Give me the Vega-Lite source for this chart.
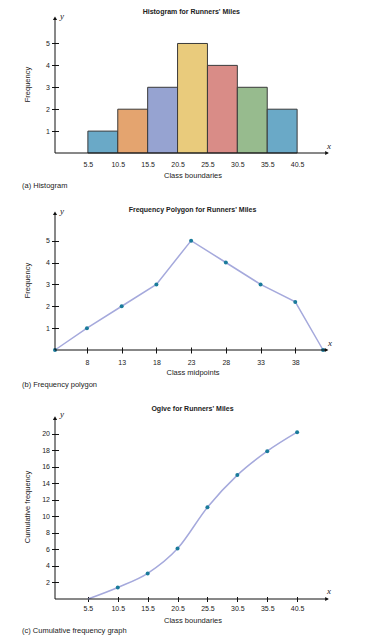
{
  "$schema": "https://vega.github.io/schema/vega-lite/v6.json",
  "background": "white",
  "padding": {"left": 22, "top": 8, "right": 5, "bottom": 5},
  "spacing": 16,
  "config": {
    "view": {"stroke": null},
    "axis": {
      "labelFont": "Liberation Sans",
      "titleFont": "Liberation Sans",
      "labelFontSize": 7,
      "titleFontSize": 7.5,
      "titleFontWeight": "normal",
      "labelColor": "#222222",
      "titleColor": "#222222",
      "tickColor": "#111111",
      "grid": false,
      "domain": false,
      "labelFlush": false,
      "labelOverlap": false
    },
    "text": {"font": "Liberation Sans", "fontSize": 7.5, "color": "#222222"}
  },
  "datasets": {
    "one": [{"k": 1}],
    "hist": [
      {"cls": "6-10", "lower": 5.5, "upper": 10.5, "freq": 1},
      {"cls": "11-15", "lower": 10.5, "upper": 15.5, "freq": 2},
      {"cls": "16-20", "lower": 15.5, "upper": 20.5, "freq": 3},
      {"cls": "21-25", "lower": 20.5, "upper": 25.5, "freq": 5},
      {"cls": "26-30", "lower": 25.5, "upper": 30.5, "freq": 4},
      {"cls": "31-35", "lower": 30.5, "upper": 35.5, "freq": 3},
      {"cls": "36-40", "lower": 35.5, "upper": 40.5, "freq": 2}
    ],
    "poly": [
      {"midpoint": 3.4, "freq": 0},
      {"midpoint": 8, "freq": 1},
      {"midpoint": 13, "freq": 2},
      {"midpoint": 18, "freq": 3},
      {"midpoint": 23, "freq": 5},
      {"midpoint": 28, "freq": 4},
      {"midpoint": 33, "freq": 3},
      {"midpoint": 38, "freq": 2.2},
      {"midpoint": 42, "freq": 0}
    ],
    "ogive": [
      {"boundary": 5.5, "cum": 0, "dot": false},
      {"boundary": 10.5, "cum": 1.4, "dot": true},
      {"boundary": 15.5, "cum": 3.1, "dot": true},
      {"boundary": 20.5, "cum": 6.1, "dot": true},
      {"boundary": 25.5, "cum": 11.1, "dot": true},
      {"boundary": 30.5, "cum": 15, "dot": true},
      {"boundary": 35.5, "cum": 17.9, "dot": true},
      {"boundary": 40.5, "cum": 20.2, "dot": true}
    ]
  },
  "vconcat": [
    {
      "width": 275,
      "height": 138,
      "layer": [
        {
          "data": {"name": "hist"},
          "mark": {"type": "rect", "stroke": "#3a3a3a", "strokeWidth": 1},
          "encoding": {
            "x": {"field": "lower", "type": "quantitative", "scale": {"domain": [0, 46], "nice": false, "zero": false},
              "axis": {"values": [5.5, 10.5, 15.5, 20.5, 25.5, 30.5, 35.5, 40.5], "tickCount": 50, "format": ".1f", "ticks": false, "labelOverlap": false, "labelPadding": 7, "title": "Class boundaries", "titlePadding": 4}},
            "x2": {"field": "upper"},
            "y": {"field": "freq", "type": "quantitative", "scale": {"domain": [0, 6.3], "nice": false},
              "axis": {"values": [1, 2, 3, 4, 5], "tickCount": 50, "format": "d", "labelOverlap": false, "tickSize": 7, "offset": -3.5, "labelPadding": 2, "title": "Frequency", "titlePadding": 14}},
            "y2": {"datum": 0},
            "color": {"field": "cls", "type": "nominal", "legend": null,
              "scale": {"domain": ["6-10", "11-15", "16-20", "21-25", "26-30", "31-35", "36-40"],
                "range": ["#6aa9c7", "#e4a46f", "#96a3d1", "#e9cb7c", "#d98c87", "#97bb8e", "#6aa9c7"]}}
          }
        },
        {"data": {"name": "one"}, "mark": {"type": "rule", "color": "#111111", "strokeWidth": 1},
          "encoding": {"x": {"datum": 0}, "y": {"datum": 0}, "y2": {"datum": 6.15}}},
        {"data": {"name": "one"}, "mark": {"type": "rule", "color": "#111111", "strokeWidth": 1},
          "encoding": {"x": {"datum": 0}, "x2": {"datum": 45.6}, "y": {"datum": 0}}},
        {"data": {"name": "one"}, "mark": {"type": "point", "shape": "triangle-up", "filled": true, "color": "#111111", "size": 18, "opacity": 1},
          "encoding": {"x": {"datum": 0}, "y": {"datum": 6.15}}},
        {"data": {"name": "one"}, "mark": {"type": "point", "shape": "triangle-right", "filled": true, "color": "#111111", "size": 18, "opacity": 1},
          "encoding": {"x": {"datum": 45.5}, "y": {"datum": 0}}},
        {"data": {"name": "one"}, "mark": {"type": "text", "font": "Liberation Serif", "fontStyle": "italic", "fontSize": 9, "align": "left", "baseline": "middle", "dx": 5, "dy": 1},
          "encoding": {"x": {"datum": 0}, "y": {"datum": 6.3}, "text": {"value": "y"}}},
        {"data": {"name": "one"}, "mark": {"type": "text", "font": "Liberation Serif", "fontStyle": "italic", "fontSize": 9, "align": "center", "baseline": "middle", "dx": -1, "dy": -7},
          "encoding": {"x": {"datum": 46}, "y": {"datum": 0}, "text": {"value": "x"}}},
        {"data": {"name": "one"}, "mark": {"type": "text", "fontWeight": "bold", "fontSize": 7, "align": "center", "baseline": "middle", "dy": -3},
          "encoding": {"x": {"datum": 22.8}, "y": {"datum": 6.3}, "text": {"value": "Histogram for Runners' Miles"}}},
        {"data": {"name": "one"}, "mark": {"type": "text", "fontSize": 7.5, "align": "left", "baseline": "middle", "dx": -33, "dy": 33},
          "encoding": {"x": {"datum": 0}, "y": {"datum": 0}, "text": {"value": "(a) Histogram"}}}
      ]
    },
    {
      "width": 275,
      "height": 140,
      "layer": [
        {
          "data": {"name": "poly"},
          "mark": {"type": "line", "color": "#a5a9dc", "strokeWidth": 1.5},
          "encoding": {
            "x": {"field": "midpoint", "type": "quantitative", "scale": {"domain": [3.4, 43], "nice": false, "zero": false},
              "axis": {"values": [8, 13, 18, 23, 28, 33, 38], "tickCount": 50, "format": "d", "labelOverlap": false, "tickSize": 6, "offset": -3, "labelPadding": 5, "title": "Class midpoints", "titlePadding": 3.5}},
            "y": {"field": "freq", "type": "quantitative", "scale": {"domain": [0, 6.4], "nice": false},
              "axis": {"values": [1, 2, 3, 4, 5], "tickCount": 50, "format": "d", "labelOverlap": false, "tickSize": 7, "offset": -3.5, "labelPadding": 2, "title": "Frequency", "titlePadding": 14}}
          }
        },
        {
          "data": {"name": "poly"},
          "mark": {"type": "point", "filled": true, "color": "#1a7b9b", "size": 16, "opacity": 1},
          "encoding": {
            "x": {"field": "midpoint", "type": "quantitative"},
            "y": {"field": "freq", "type": "quantitative"}
          }
        },
        {"data": {"name": "one"}, "mark": {"type": "rule", "color": "#111111", "strokeWidth": 1},
          "encoding": {"x": {"datum": 3.4}, "y": {"datum": 0}, "y2": {"datum": 6.25}}},
        {"data": {"name": "one"}, "mark": {"type": "rule", "color": "#111111", "strokeWidth": 1},
          "encoding": {"x": {"datum": 3.4}, "x2": {"datum": 42.6}, "y": {"datum": 0}}},
        {"data": {"name": "one"}, "mark": {"type": "point", "shape": "triangle-up", "filled": true, "color": "#111111", "size": 18, "opacity": 1},
          "encoding": {"x": {"datum": 3.4}, "y": {"datum": 6.25}}},
        {"data": {"name": "one"}, "mark": {"type": "point", "shape": "triangle-right", "filled": true, "color": "#111111", "size": 18, "opacity": 1},
          "encoding": {"x": {"datum": 42.5}, "y": {"datum": 0}}},
        {"data": {"name": "one"}, "mark": {"type": "text", "font": "Liberation Serif", "fontStyle": "italic", "fontSize": 9, "align": "left", "baseline": "middle", "dx": 5, "dy": 1},
          "encoding": {"x": {"datum": 3.4}, "y": {"datum": 6.4}, "text": {"value": "y"}}},
        {"data": {"name": "one"}, "mark": {"type": "text", "font": "Liberation Serif", "fontStyle": "italic", "fontSize": 9, "align": "center", "baseline": "middle", "dx": 0, "dy": -7},
          "encoding": {"x": {"datum": 43}, "y": {"datum": 0}, "text": {"value": "x"}}},
        {"data": {"name": "one"}, "mark": {"type": "text", "fontWeight": "bold", "fontSize": 7, "align": "center", "baseline": "middle", "dy": 0},
          "encoding": {"x": {"datum": 23.2}, "y": {"datum": 6.4}, "text": {"value": "Frequency Polygon for Runners' Miles"}}},
        {"data": {"name": "one"}, "mark": {"type": "text", "fontSize": 7.5, "align": "left", "baseline": "middle", "dx": -33, "dy": 35},
          "encoding": {"x": {"datum": 3.4}, "y": {"datum": 0}, "text": {"value": "(b) Frequency polygon"}}}
      ]
    },
    {
      "width": 275,
      "height": 185,
      "layer": [
        {
          "data": {"name": "ogive"},
          "mark": {"type": "line", "color": "#a5a9dc", "strokeWidth": 1.5, "interpolate": "monotone"},
          "encoding": {
            "x": {"field": "boundary", "type": "quantitative", "scale": {"domain": [0, 46], "nice": false, "zero": false},
              "axis": {"values": [5.5, 10.5, 15.5, 20.5, 25.5, 30.5, 35.5, 40.5], "tickCount": 50, "format": ".1f", "labelOverlap": false, "tickSize": 5, "offset": -2.5, "labelPadding": 3, "title": "Class boundaries", "titlePadding": 5}},
            "y": {"field": "cum", "type": "quantitative", "scale": {"domain": [0, 22.4], "nice": false},
              "axis": {"values": [2, 4, 6, 8, 10, 12, 14, 16, 18, 20], "tickCount": 50, "format": "d", "labelOverlap": false, "tickSize": 7, "offset": -3.5, "labelPadding": 2, "title": "Cumulative frequency", "titlePadding": 10}}
          }
        },
        {
          "data": {"name": "ogive"},
          "transform": [{"filter": "datum.dot"}],
          "mark": {"type": "point", "filled": true, "color": "#1a7b9b", "size": 16, "opacity": 1},
          "encoding": {
            "x": {"field": "boundary", "type": "quantitative"},
            "y": {"field": "cum", "type": "quantitative"}
          }
        },
        {"data": {"name": "one"}, "mark": {"type": "rule", "color": "#111111", "strokeWidth": 1},
          "encoding": {"x": {"datum": 0}, "y": {"datum": 0}, "y2": {"datum": 21.9}}},
        {"data": {"name": "one"}, "mark": {"type": "rule", "color": "#111111", "strokeWidth": 1},
          "encoding": {"x": {"datum": 0}, "x2": {"datum": 45.6}, "y": {"datum": 0}}},
        {"data": {"name": "one"}, "mark": {"type": "point", "shape": "triangle-up", "filled": true, "color": "#111111", "size": 18, "opacity": 1},
          "encoding": {"x": {"datum": 0}, "y": {"datum": 21.9}}},
        {"data": {"name": "one"}, "mark": {"type": "point", "shape": "triangle-right", "filled": true, "color": "#111111", "size": 18, "opacity": 1},
          "encoding": {"x": {"datum": 45.5}, "y": {"datum": 0}}},
        {"data": {"name": "one"}, "mark": {"type": "text", "font": "Liberation Serif", "fontStyle": "italic", "fontSize": 9, "align": "left", "baseline": "middle", "dx": 5, "dy": 0},
          "encoding": {"x": {"datum": 0}, "y": {"datum": 22.4}, "text": {"value": "y"}}},
        {"data": {"name": "one"}, "mark": {"type": "text", "font": "Liberation Serif", "fontStyle": "italic", "fontSize": 9, "align": "center", "baseline": "middle", "dx": -1, "dy": -8},
          "encoding": {"x": {"datum": 46}, "y": {"datum": 0}, "text": {"value": "x"}}},
        {"data": {"name": "one"}, "mark": {"type": "text", "fontWeight": "bold", "fontSize": 7, "align": "center", "baseline": "middle", "dy": -5},
          "encoding": {"x": {"datum": 23}, "y": {"datum": 22.4}, "text": {"value": "Ogive for Runners' Miles"}}},
        {"data": {"name": "one"}, "mark": {"type": "text", "fontSize": 7.5, "align": "left", "baseline": "middle", "dx": -33, "dy": 32},
          "encoding": {"x": {"datum": 0}, "y": {"datum": 0}, "text": {"value": "(c) Cumulative frequency graph"}}}
      ]
    }
  ]
}
